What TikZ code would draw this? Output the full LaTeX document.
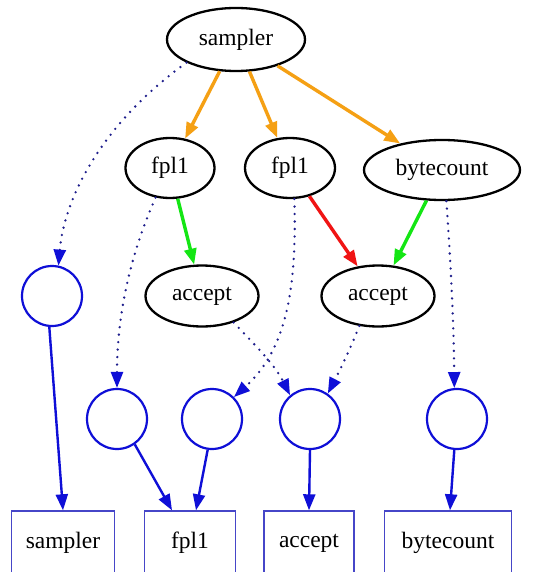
\documentclass[tikz,border=0pt]{standalone}
\usepackage{fontspec}
\setmainfont{Liberation Serif}
\usetikzlibrary{shapes.geometric,arrows.meta,calc}
\definecolor{gvorange}{RGB}{245,160,20}
\definecolor{gvgreen}{RGB}{20,230,20}
\definecolor{gvred}{RGB}{240,20,20}
\definecolor{gvblue}{RGB}{15,15,215}
\definecolor{gvnavy}{RGB}{30,30,140}
\definecolor{gvbox}{RGB}{70,70,200}
\begin{document}
\begin{tikzpicture}[x=1pt,y=-1pt,
  every node/.style={font=\fontsize{23.5}{28}\selectfont},
  ell/.style={ellipse,draw=black,line width=2.3pt,inner sep=0pt,minimum height=60pt},
  circ/.style={circle,draw=gvblue,line width=2.2pt,inner sep=0pt,minimum size=60pt},
  boxn/.style={rectangle,draw=gvbox,line width=1.4pt,inner sep=0pt,minimum height=64pt},
  tip/.style={-{Triangle[length=16pt,width=12pt]}},
  orangearr/.style={tip,draw=gvorange,line width=3.4pt},
  greenarr/.style={tip,draw=gvgreen,line width=3.4pt},
  redarr/.style={tip,draw=gvred,line width=3.4pt},
  dotarr/.style={-{Triangle[length=16pt,width=12pt,color=gvblue]},draw=gvnavy,line width=2.6pt,line cap=round,dash pattern=on 0pt off 7.5pt},
  bluearr/.style={tip,draw=gvblue,line width=2.4pt}
]
\useasboundingbox (0,0) rectangle (537,572);
\fill[white] (0,0) rectangle (537,572);
% top graph
\node[ell,minimum width=138pt,minimum height=63pt] (s) at (236,39.5) {sampler};
\node[ell,minimum width=89pt] (f1) at (170,168) {fpl1};
\node[ell,minimum width=90pt] (f2) at (290,168) {fpl1};
\node[ell,minimum width=156pt] (bc) at (442,170) {bytecount};
\node[ell,minimum width=113pt,minimum height=61pt] (a1) at (202,296) {accept};
\node[ell,minimum width=113pt,minimum height=61pt] (a2) at (378,296) {accept};
% circles
\node[circ] (lc) at (52,296) {};
\node[circ] (c1) at (117,419) {};
\node[circ] (c2) at (212,419) {};
\node[circ] (c3) at (310,419) {};
\node[circ] (c4) at (457,419) {};
% boxes
\node[boxn,minimum width=103pt] (b1) at (63,543) {sampler};
\node[boxn,minimum width=91pt] (b2) at (190,543) {fpl1};
\node[boxn,minimum width=90pt] (b3) at (309,543) {accept};
\node[boxn,minimum width=127pt] (b4) at (448,543) {bytecount};
% orange
\draw[orangearr] (s) -- (f1);
\draw[orangearr] (s) -- (f2);
\draw[orangearr] (s) -- (bc);
% green / red
\draw[greenarr] (f1) -- (a1);
\draw[redarr] (f2) -- (a2);
\draw[greenarr] (bc) -- (a2);
% dotted
\draw[dotarr] (s.205) .. controls (100,125) and (64,200) .. (lc.78);
\draw[dotarr] (f1.244) .. controls (128,260) and (117,320) .. (c1.90);
\draw[dotarr] (f2.278) .. controls (297,290) and (286,350) .. (c2.45);
\draw[dotarr] (a1.320) .. controls (255,345) and (275,365) .. (c3.130);
\draw[dotarr] (a2.238) .. controls (352,345) and (340,370) .. (c3.55);
\draw[dotarr] (bc.278) .. controls (452,280) and (454,340) .. (c4.95);
% solid blue
\draw[bluearr] (lc.265) -- (b1.north);
\draw[bluearr] (c1.305) -- ($(b2.north)+(-18,0)$);
\draw[bluearr] (c2.262) -- ($(b2.north)+(6,0)$);
\draw[bluearr] (c3.south) -- (b3.north);
\draw[bluearr] (c4.265) -- ($(b4.north)+(2,0)$);
\end{tikzpicture}
\end{document}
